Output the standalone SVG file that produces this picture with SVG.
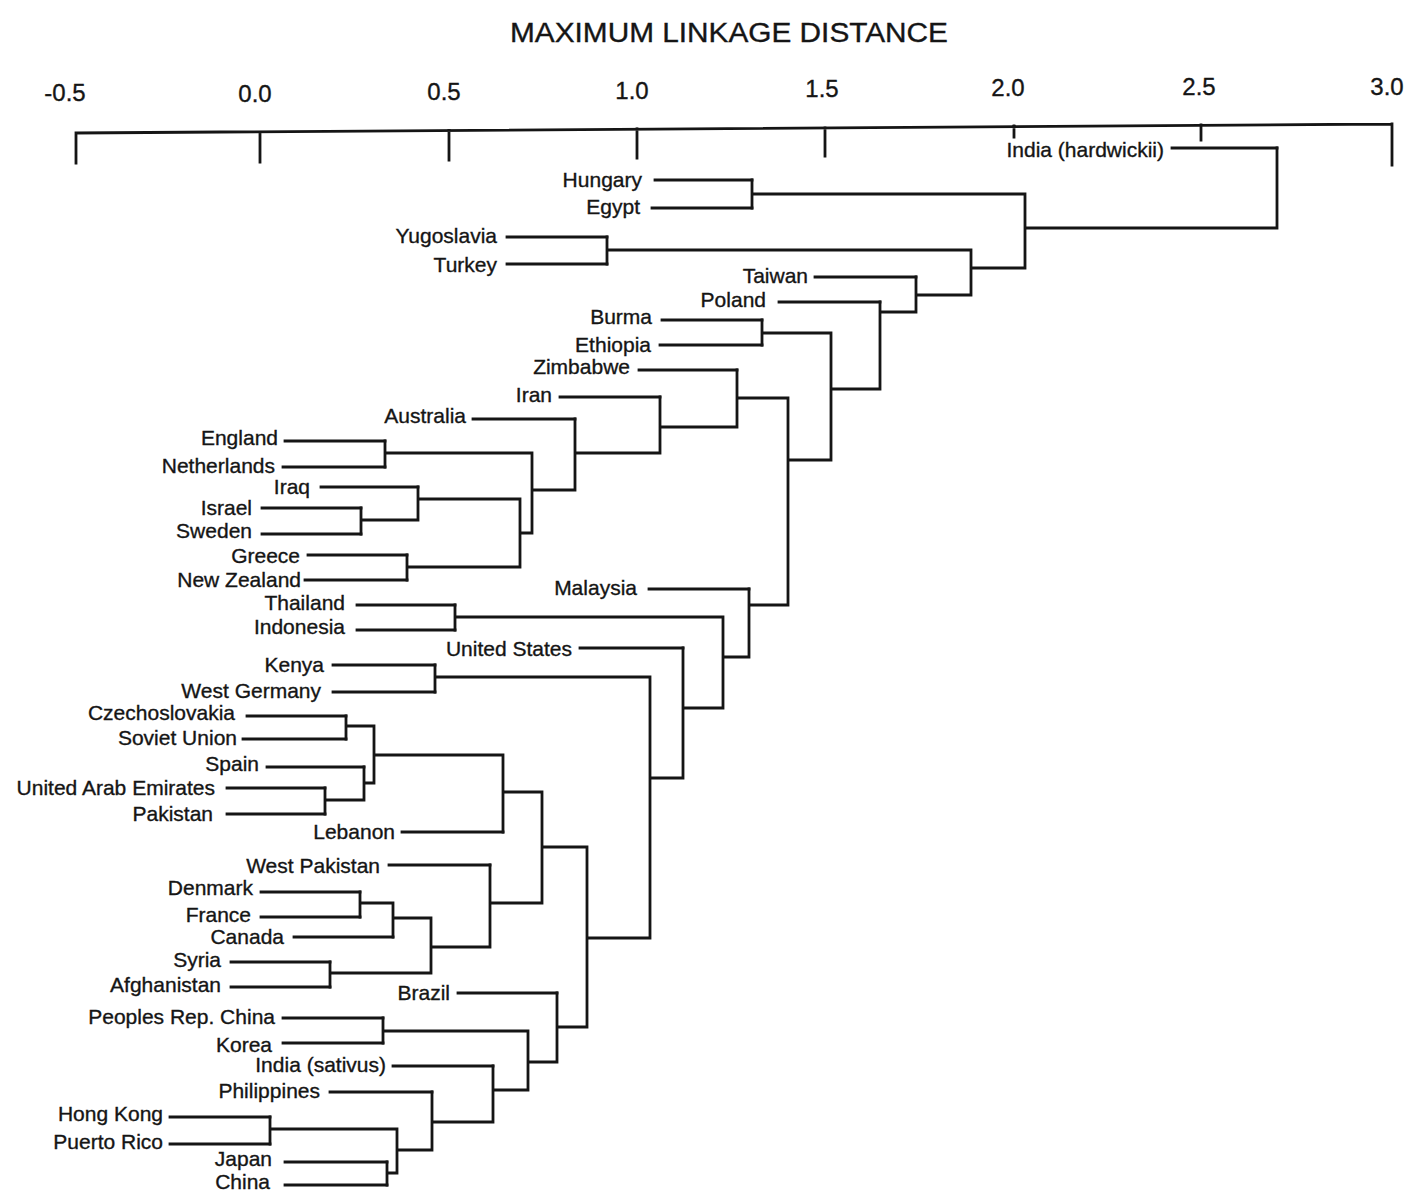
<svg xmlns="http://www.w3.org/2000/svg" width="1411" height="1193" viewBox="0 0 1411 1193">
<style>
.ln{stroke:#151515;stroke-width:2.8;fill:none;stroke-linecap:square}
.lbl{font-family:"Liberation Sans",Arial,Helvetica,sans-serif;font-size:21px;text-anchor:end;fill:#151515;stroke:#151515;stroke-width:0.35}
.ax{font-family:"Liberation Sans",Arial,Helvetica,sans-serif;font-size:24px;text-anchor:middle;fill:#151515;stroke:#151515;stroke-width:0.35}
.title{font-family:"Liberation Sans",Arial,Helvetica,sans-serif;font-size:27px;fill:#151515;stroke:#151515;stroke-width:0.35}
</style>
<rect width="1411" height="1193" fill="#ffffff"/>
<g id="axis">
<text class="title" x="510" y="42" textLength="438" lengthAdjust="spacingAndGlyphs">MAXIMUM LINKAGE DISTANCE</text>
<path class="ln" d="M76,133 L1392,124 M76,133 V163 M260,132 V162 M449,130.5 V160 M637,129 V158 M825,128 V156 M1014,126 V137 M1201,125 V140 M1392,124 V165"/>
<text class="ax" x="65" y="101">-0.5</text>
<text class="ax" x="255" y="102">0.0</text>
<text class="ax" x="444" y="100">0.5</text>
<text class="ax" x="632" y="99">1.0</text>
<text class="ax" x="822" y="97">1.5</text>
<text class="ax" x="1008" y="96">2.0</text>
<text class="ax" x="1199" y="95">2.5</text>
<text class="ax" x="1387" y="95">3.0</text>
</g>
<g id="leaves">
<g id="n-india-hardwickii"><text class="lbl" x="1164" y="157">India (hardwickii)</text></g>
<g id="n-hungary"><text class="lbl" x="642" y="187">Hungary</text></g>
<g id="n-egypt"><text class="lbl" x="640" y="214">Egypt</text></g>
<g id="n-yugoslavia"><text class="lbl" x="497" y="243">Yugoslavia</text></g>
<g id="n-turkey"><text class="lbl" x="497" y="272">Turkey</text></g>
<g id="n-taiwan"><text class="lbl" x="808" y="283">Taiwan</text></g>
<g id="n-poland"><text class="lbl" x="766" y="307">Poland</text></g>
<g id="n-burma"><text class="lbl" x="652" y="324">Burma</text></g>
<g id="n-ethiopia"><text class="lbl" x="651" y="352">Ethiopia</text></g>
<g id="n-zimbabwe"><text class="lbl" x="630" y="374">Zimbabwe</text></g>
<g id="n-iran"><text class="lbl" x="552" y="402">Iran</text></g>
<g id="n-australia"><text class="lbl" x="466" y="423">Australia</text></g>
<g id="n-england"><text class="lbl" x="278" y="445">England</text></g>
<g id="n-netherlands"><text class="lbl" x="275" y="473">Netherlands</text></g>
<g id="n-iraq"><text class="lbl" x="310" y="494">Iraq</text></g>
<g id="n-israel"><text class="lbl" x="252" y="515">Israel</text></g>
<g id="n-sweden"><text class="lbl" x="252" y="538">Sweden</text></g>
<g id="n-greece"><text class="lbl" x="300" y="563">Greece</text></g>
<g id="n-new-zealand"><text class="lbl" x="301" y="587">New Zealand</text></g>
<g id="n-thailand"><text class="lbl" x="345" y="610">Thailand</text></g>
<g id="n-indonesia"><text class="lbl" x="345" y="634">Indonesia</text></g>
<g id="n-malaysia"><text class="lbl" x="637" y="595">Malaysia</text></g>
<g id="n-united-states"><text class="lbl" x="572" y="656">United States</text></g>
<g id="n-kenya"><text class="lbl" x="324" y="672">Kenya</text></g>
<g id="n-west-germany"><text class="lbl" x="321" y="698">West Germany</text></g>
<g id="n-czechoslovakia"><text class="lbl" x="235" y="720">Czechoslovakia</text></g>
<g id="n-soviet-union"><text class="lbl" x="237" y="745">Soviet Union</text></g>
<g id="n-spain"><text class="lbl" x="259" y="771">Spain</text></g>
<g id="n-uae"><text class="lbl" x="215" y="795">United Arab Emirates</text></g>
<g id="n-pakistan"><text class="lbl" x="213" y="821">Pakistan</text></g>
<g id="n-lebanon"><text class="lbl" x="395" y="839">Lebanon</text></g>
<g id="n-west-pakistan"><text class="lbl" x="380" y="873">West Pakistan</text></g>
<g id="n-denmark"><text class="lbl" x="253" y="895">Denmark</text></g>
<g id="n-france"><text class="lbl" x="251" y="922">France</text></g>
<g id="n-canada"><text class="lbl" x="284" y="944">Canada</text></g>
<g id="n-syria"><text class="lbl" x="221" y="967">Syria</text></g>
<g id="n-afghanistan"><text class="lbl" x="221" y="992">Afghanistan</text></g>
<g id="n-brazil"><text class="lbl" x="450" y="1000">Brazil</text></g>
<g id="n-prc"><text class="lbl" x="275" y="1024">Peoples Rep. China</text></g>
<g id="n-korea"><text class="lbl" x="272" y="1052">Korea</text></g>
<g id="n-india-sativus"><text class="lbl" x="386" y="1072">India (sativus)</text></g>
<g id="n-philippines"><text class="lbl" x="320" y="1098">Philippines</text></g>
<g id="n-hong-kong"><text class="lbl" x="163" y="1121">Hong Kong</text></g>
<g id="n-puerto-rico"><text class="lbl" x="163" y="1149">Puerto Rico</text></g>
<g id="n-japan"><text class="lbl" x="272" y="1166">Japan</text></g>
<g id="n-china"><text class="lbl" x="270" y="1189">China</text></g>
</g>
<g id="connectors">
<path class="ln" d="M1172,148 H1277 M655,180 H752 M652,208 H752 M507,237 H607 M507,264 H607 M815,277 H916 M779,302 H880 M662,320 H762 M660,345 H762 M639,370 H737 M560,397 H660 M473,419 H575 M285,441 H385 M283,467 H385 M321,487 H418 M262,508 H361 M262,534 H361 M308,555 H407 M305,580 H407 M357,605 H455 M357,630 H455 M649,589 H749 M580,648 H683 M333,665 H435 M333,692 H435 M247,716 H346 M243,739 H346 M267,767 H364 M227,788 H325 M227,814 H325 M402,832 H503 M389,865 H490 M261,892 H360 M261,917 H360 M294,937 H393 M231,962 H330 M231,987 H330 M458,993 H557 M283,1018 H383 M283,1043 H383 M393,1066 H493 M330,1092 H432 M170,1117 H270 M170,1144 H270 M285,1162 H387 M285,1185 H387"/>
<path class="ln" d="M1277,148 V228 M1025,228 H1277
M752,180 V208 M752,194 H1025
M607,237 V264 M607,250 H971
M1025,194 V268 M971,268 H1025
M971,250 V295 M916,295 H971
M916,277 V312 M880,312 H916
M880,302 V389 M831,389 H880
M762,320 V345 M762,333 H831
M831,333 V460 M788,460 H831
M737,370 V427 M737,398 H788
M788,398 V605 M749,605 H788
M660,427 H737 M660,397 V453
M575,453 H660 M575,419 V490
M532,490 H575 M532,453 V533
M385,441 V467 M385,453 H532
M361,508 V534 M361,520 H418
M418,487 V520 M418,499 H520
M520,499 V567 M520,533 H532
M407,555 V580 M407,567 H520
M455,605 V630 M455,617 H723
M723,617 V708 M723,657 H749
M749,589 V657
M683,648 V778 M683,708 H723
M435,665 V692 M435,677 H650
M650,677 V938 M650,778 H683
M346,716 V739 M346,726 H374
M374,726 V783 M374,755 H503
M364,767 V800 M364,783 H374
M325,788 V814 M325,800 H364
M503,755 V832 M503,792 H542
M542,792 V903 M542,847 H587
M490,865 V947 M490,903 H542
M360,892 V917 M360,903 H393
M393,903 V937 M393,918 H431
M431,918 V973 M431,947 H490
M330,962 V987 M330,973 H431
M587,847 V1027 M587,938 H650
M557,993 V1062 M557,1027 H587
M383,1018 V1043 M383,1031 H528
M528,1031 V1090 M528,1062 H557
M493,1066 V1122 M493,1090 H528
M432,1092 V1150 M432,1122 H493
M270,1117 V1144 M270,1129 H397
M397,1129 V1173 M397,1150 H432
M387,1162 V1185 M387,1173 H397"/>
</g>
</svg>
